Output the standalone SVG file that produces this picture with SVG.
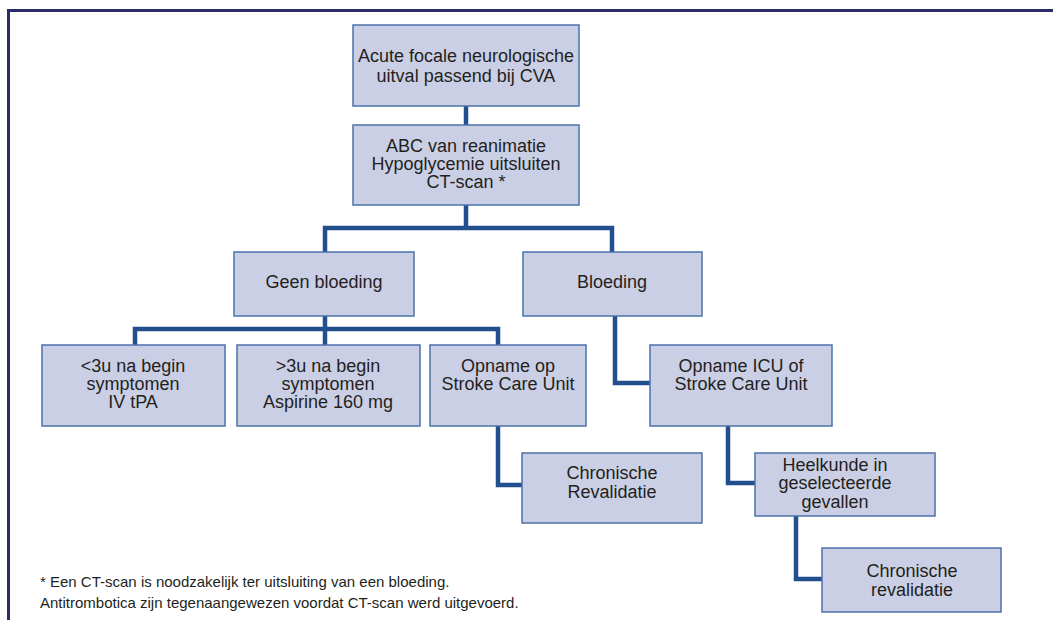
<svg xmlns="http://www.w3.org/2000/svg" width="1053" height="620" viewBox="0 0 1053 620">
<style>
.box{fill:#cbcfe5;stroke:#4b72aa;stroke-width:1.5}
.t{font-family:"Liberation Sans",Arial,sans-serif;font-size:18px;fill:#231f20;text-anchor:middle}
.fn{font-family:"Liberation Sans",Arial,sans-serif;font-size:15px;fill:#231f20}
.c{fill:none;stroke:#22508f;stroke-width:4.5;stroke-linejoin:miter}
.frame{fill:none;stroke:#2b2d6b;stroke-width:3}
</style>
<rect width="1053" height="620" fill="#ffffff"/>
<path class="frame" d="M8.5,620 V10.5 H1053"/>
<g id="connectors">
<path class="c" d="M466,106 V125"/>
<path class="c" d="M466,205 V228"/>
<path class="c" d="M325,252 V228 H612 V252"/>
<path class="c" d="M325,316 V345"/>
<path class="c" d="M135,345 V329 H498 V345"/>
<path class="c" d="M615,316 V383 H650"/>
<path class="c" d="M498,426 V485 H522"/>
<path class="c" d="M728,426 V483 H755"/>
<path class="c" d="M796,516 V579 H822"/>
</g>
<g id="n1"><rect class="box" x="353" y="25" width="226" height="81"/>
<text class="t" x="466" y="62">Acute focale neurologische</text>
<text class="t" x="466" y="82">uitval passend bij CVA</text></g>
<g id="n2"><rect class="box" x="353" y="125" width="226" height="80"/>
<text class="t" x="466" y="152">ABC van reanimatie</text>
<text class="t" x="466" y="170">Hypoglycemie uitsluiten</text>
<text class="t" x="466" y="188">CT-scan *</text></g>
<g id="n3"><rect class="box" x="234" y="252" width="180" height="64"/>
<text class="t" x="324" y="288">Geen bloeding</text></g>
<g id="n4"><rect class="box" x="523" y="252" width="179" height="64"/>
<text class="t" x="612" y="288">Bloeding</text></g>
<g id="n5"><rect class="box" x="42" y="345" width="183" height="81"/>
<text class="t" x="133" y="372">&lt;3u na begin</text>
<text class="t" x="133" y="390">symptomen</text>
<text class="t" x="133" y="408">IV tPA</text></g>
<g id="n6"><rect class="box" x="237" y="345" width="183" height="81"/>
<text class="t" x="328" y="372">&gt;3u na begin</text>
<text class="t" x="328" y="390">symptomen</text>
<text class="t" x="328" y="408">Aspirine 160 mg</text></g>
<g id="n7"><rect class="box" x="430" y="345" width="156" height="81"/>
<text class="t" x="508" y="372">Opname op</text>
<text class="t" x="508" y="390">Stroke Care Unit</text></g>
<g id="n8"><rect class="box" x="650" y="345" width="182" height="81"/>
<text class="t" x="741" y="372">Opname ICU of</text>
<text class="t" x="741" y="390">Stroke Care Unit</text></g>
<g id="n9"><rect class="box" x="522" y="453" width="180" height="70"/>
<text class="t" x="612" y="479">Chronische</text>
<text class="t" x="612" y="498">Revalidatie</text></g>
<g id="n10"><rect class="box" x="755" y="453" width="180" height="63"/>
<text class="t" x="835" y="471">Heelkunde in</text>
<text class="t" x="835" y="489">geselecteerde</text>
<text class="t" x="835" y="508">gevallen</text></g>
<g id="n11"><rect class="box" x="822" y="548" width="179" height="64"/>
<text class="t" x="912" y="577">Chronische</text>
<text class="t" x="912" y="596">revalidatie</text></g>
<g id="footnote">
<text class="fn" x="40" y="587">* Een CT-scan is noodzakelijk ter uitsluiting van een bloeding.</text>
<text class="fn" x="40" y="608">Antitrombotica zijn tegenaangewezen voordat CT-scan werd uitgevoerd.</text>
</g>
</svg>
